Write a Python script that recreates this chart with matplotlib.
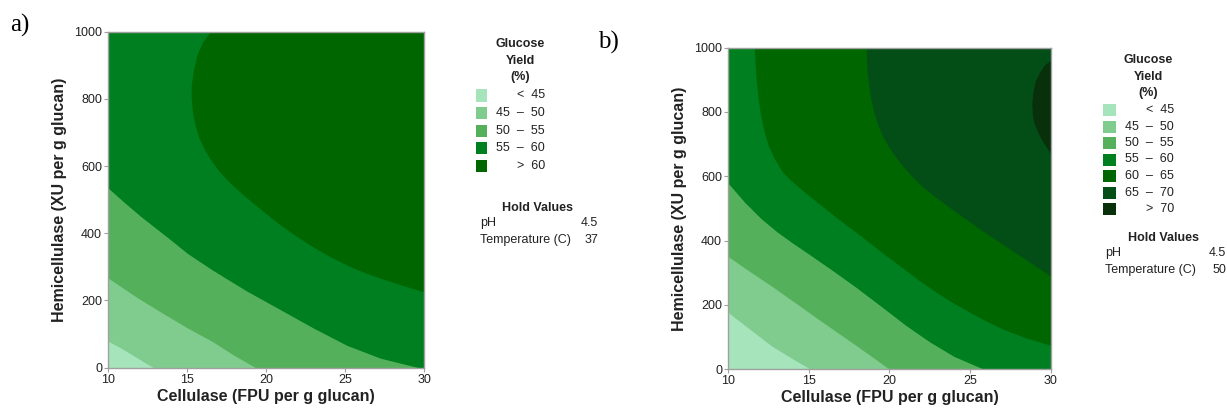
import matplotlib
matplotlib.use("Agg")
import matplotlib.pyplot as plt
from matplotlib.patches import Rectangle

plt.rcParams['font.family'] = ['Liberation Sans', 'DejaVu Sans']

W, H = 1227, 409
X0, X1 = 10, 30
Y0, Y1 = 0, 1000

# contour colours, lowest yield first
greens = ['#a6e4bb', '#80cc8e', '#55b05c', '#007f20', '#006600', '#034d17', '#07300b']

x_ticks = [10, 15, 20, 25, 30]
y_ticks = [0, 200, 400, 600, 800, 1000]

# panel a) (37 C): contour boundaries (x = cellulase, y = hemicellulase)
a_45_x = [10, 10.8, 11.5, 12.2, 12.85]
a_45_y = [78, 58, 38, 18, 0]
a_50_x = [10, 11.9, 13.5, 15, 16.6, 17.9, 19.3]
a_50_y = [266, 206, 160, 118, 77, 38, 0]
a_55_x = [10, 11, 12, 13, 14, 15, 16.6, 18.75, 20.9, 23, 25.1, 27.2, 29.6]
a_55_y = [534, 492, 452, 415, 378, 340, 290, 228, 172, 117, 66, 28, 0]
a_60_x = [16.45, 15.95, 15.6, 15.38, 15.25, 15.25, 15.33, 15.5, 15.75, 16.1, 16.5, 17.0,
          17.7, 18.4, 19.1, 19.8, 20.9, 22, 23, 24, 25.1, 26.1, 27.2, 28.6, 30]
a_60_y = [1000, 968, 930, 885, 840, 800, 760, 720, 683, 648, 617, 585,
          550, 520, 492, 465, 424, 388, 358, 331, 305, 285, 266, 245, 225]

# panel b) (50 C)
b_45_x = [10, 11.5, 12.7, 14, 15.1]
b_45_y = [176, 118, 72, 32, 0]
b_50_x = [10, 11.3, 12.7, 14.2, 15.8, 17.9, 20]
b_50_y = [350, 305, 258, 205, 148, 75, 0]
b_55_x = [10, 11, 12, 13, 14, 15, 16.5, 18, 19.5, 21, 22.5, 24, 25.85]
b_55_y = [578, 520, 470, 428, 392, 358, 306, 252, 195, 137, 85, 40, 0]
b_60_x = [11.62, 11.66, 11.73, 11.83, 11.97, 12.17, 12.45, 12.85, 13.35, 13.93, 14.8, 15.8,
          16.8, 17.87, 18.8, 19.8, 20.87, 21.9, 22.94, 24, 25, 26, 27.08, 28.5, 30]
b_60_y = [1000, 950, 900, 850, 800, 750, 700, 655, 614, 585, 548, 508,
          468, 428, 392, 353, 313, 274, 238, 205, 177, 150, 124, 97, 75]
b_65_x = [18.57, 18.58, 18.63, 18.72, 18.85, 19.03, 19.28, 19.6, 20.0, 20.45, 20.95, 21.5,
          22.1, 22.8, 23.6, 24.6, 25.7, 26.9, 28.5, 30]
b_65_y = [1000, 960, 920, 880, 840, 800, 760, 722, 688, 656, 625, 595,
          566, 538, 508, 472, 433, 393, 340, 290]
b_70_x = [30, 29.6, 29.3, 29.05, 28.9, 28.84, 28.88, 28.98, 29.2, 29.46, 29.75, 30]
b_70_y = [962, 945, 922, 895, 860, 825, 790, 765, 738, 713, 690, 671]

labels_a = ['<  45', '45  \u2013  50', '50  \u2013  55', '55  \u2013  60', '>  60']
labels_b = ['<  45', '45  \u2013  50', '50  \u2013  55', '55  \u2013  60',
            '60  \u2013  65', '65  \u2013  70', '>  70']
hold_a = [('pH', '4.5'), ('Temperature (C)', '37')]
hold_b = [('pH', '4.5'), ('Temperature (C)', '50')]


def fx(px):
    return px / W


def fy(py):
    return 1 - py / H


def draw_panel(ax, bounds, cols):
    ax.set_facecolor(cols[0])
    for (bx, by), c in zip(bounds, cols[1:]):
        bx, by = list(bx), list(by)
        if bx[0] == X0 and by[0] < Y1:
            # region above the curve covers the full width up the left edge
            bx = [X0] + bx
            by = [Y1] + by
        ax.fill_betweenx(by, bx, X1, color=c, lw=0)
    ax.set_xlim(X0, X1)
    ax.set_ylim(Y0, Y1)
    ax.set_xticks(x_ticks)
    ax.set_yticks(y_ticks)
    for s in ax.spines.values():
        s.set_color('#a0a0a0')
        s.set_linewidth(1)
    ax.tick_params(direction='out', length=3, width=0.8, color='#a0a0a0',
                   labelcolor='#222222', labelsize=9, pad=1.5)
    ax.set_xlabel('Cellulase (FPU per g glucan)', fontsize=11.5, fontweight='bold',
                  color='#222222', labelpad=2)
    ax.set_ylabel('Hemicellulase (XU per g glucan)', fontsize=11.5, fontweight='bold',
                  color='#222222', labelpad=5)


def draw_legend(fig, cx, title_y, sw_x, sw_w, row0, drow, lab_r, labels, cols,
                hold_y, hold_l, hold_r, hold):
    for i, t in enumerate(['Glucose', 'Yield', '(%)']):
        fig.text(fx(cx), fy(title_y + i * 16.7), t, ha='center', va='center',
                 fontsize=9, fontweight='bold', color='#222222')
    for i, (lab, c) in enumerate(zip(labels, cols)):
        yc = row0 + i * drow
        fig.add_artist(Rectangle((fx(sw_x), fy(yc + 6)), sw_w / W, 12 / H,
                                 transform=fig.transFigure, color=c, lw=0))
        fig.text(fx(lab_r), fy(yc), lab, ha='right', va='center', fontsize=9,
                 color='#222222')
    fig.text(fx((hold_l + hold_r) / 2 - 2), fy(hold_y), 'Hold Values', ha='center',
             va='center', fontsize=9, fontweight='bold', color='#222222')
    for i, (name, val) in enumerate(hold):
        yy = hold_y + 15 + i * 17
        fig.text(fx(hold_l), fy(yy), name, ha='left', va='center', fontsize=9,
                 color='#222222')
        fig.text(fx(hold_r), fy(yy), val, ha='right', va='center', fontsize=9,
                 color='#222222')


fig = plt.figure(figsize=(W / 100, H / 100), dpi=100)

ax_a = fig.add_axes([fx(108.3), fy(367.5), (424.3 - 108.3) / W, (367.5 - 31.7) / H])
draw_panel(ax_a, [(a_45_x, a_45_y), (a_50_x, a_50_y), (a_55_x, a_55_y), (a_60_x, a_60_y)],
           greens[:5])

ax_b = fig.add_axes([fx(728.3), fy(369.2), (1050.5 - 728.3) / W, (369.2 - 47.7) / H])
draw_panel(ax_b, [(b_45_x, b_45_y), (b_50_x, b_50_y), (b_55_x, b_55_y), (b_60_x, b_60_y),
                  (b_65_x, b_65_y), (b_70_x, b_70_y)], greens)

draw_legend(fig, 520, 44, 476, 11, 95.5, 17.6, 545, labels_a, greens[:5],
            208, 480, 598, hold_a)
draw_legend(fig, 1148, 60, 1103, 13, 110, 16.5, 1174, labels_b, greens,
            238, 1105, 1226, hold_b)

fig.text(fx(10), fy(25), 'a)', ha='left', va='center', fontsize=18,
         family=['Liberation Serif', 'DejaVu Serif'])
fig.text(fx(598), fy(42), 'b)', ha='left', va='center', fontsize=18,
         family=['Liberation Serif', 'DejaVu Serif'])

fig.savefig('out.png', dpi=100)
